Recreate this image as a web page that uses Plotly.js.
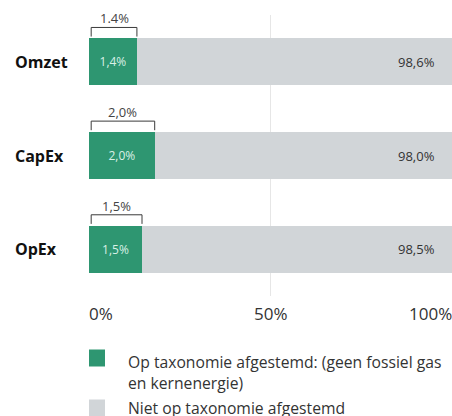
<!DOCTYPE html>
<html>
<head>
<meta charset="utf-8">
<script src="https://cdn.plot.ly/plotly-3.0.1.min.js"></script>
<style>html,body{margin:0;padding:0;background:#fff;}#chart{width:452px;height:416px;}</style>
</head>
<body>
<div id="chart"></div>
<script>
// Categories (top to bottom)
const categories = ['Omzet', 'CapEx', 'OpEx'];
// Reported values (%)
const alignedValues = [1.4, 2.0, 1.5];
const notAlignedValues = [98.6, 98.0, 98.5];
// Bar lengths as drawn in the reference (small share is drawn enlarged)
const alignedDrawn = [13.2, 18.1, 14.6];
const notAlignedDrawn = [86.8, 81.9, 85.4];
// Labels as printed
const alignedLabels = ['1,4%', '2,0%', '1,5%'];
const bracketLabels = ['1.4%', '2,0%', '1,5%'];
const notAlignedLabels = ['98,6%', '98,0%', '98,5%'];
const xTickVals = [0, 50, 100];
const xTickText = ['0%', '50%', '100%'];
const seriesNames = ['Op taxonomie afgestemd: (geen fossiel gas<br>en kernenergie)', 'Niet op taxonomie afgestemd'];

const GREEN = '#2e9671';
const GREY = '#d1d5d8';
const FONT = 'Open Sans, sans-serif';

const traces = [
  {
    type: 'bar', orientation: 'h', name: seriesNames[0],
    y: categories, x: alignedDrawn,
    customdata: alignedValues,
    marker: {color: GREEN, line: {width: 0}},
    text: alignedLabels, textposition: 'inside', insidetextanchor: 'middle',
    textangle: 0, constraintext: 'none',
    insidetextfont: {family: FONT, size: 12, color: '#d9f0e6'},
    hoverinfo: 'skip', showlegend: false
  },
  {
    type: 'bar', orientation: 'h', name: seriesNames[1],
    y: categories, x: notAlignedDrawn,
    customdata: notAlignedValues,
    marker: {color: GREY, line: {width: 0}},
    hoverinfo: 'skip', showlegend: false
  }
];

const shapes = [];
const annotations = [];
const LINE = {color: '#3a3a3a', width: 1};
categories.forEach((c, i) => {
  const top = i - 0.367, bot = i - 0.27;
  const x0 = 0.6, x1 = alignedDrawn[i];
  shapes.push({type: 'line', xref: 'x', yref: 'y', x0: x0, x1: x0, y0: top, y1: bot, line: LINE});
  shapes.push({type: 'line', xref: 'x', yref: 'y', x0: x1, x1: x1, y0: top, y1: bot, line: LINE});
  shapes.push({type: 'line', xref: 'x', yref: 'y', x0: x0, x1: x1, y0: top, y1: top, line: LINE});
  annotations.push({xref: 'x', yref: 'y', x: (x0 + x1) / 2, y: i - 0.463, text: bracketLabels[i],
    showarrow: false, xanchor: 'center', yanchor: 'middle', font: {family: FONT, size: 13, color: '#444'}});
  annotations.push({xref: 'x', yref: 'y', x: 100, y: c, text: notAlignedLabels[i], xshift: -15,
    showarrow: false, xanchor: 'right', yanchor: 'middle', font: {family: FONT, size: 13, color: '#333'}});
  // category label, left-aligned
  annotations.push({xref: 'paper', yref: 'y', x: 0, y: c, xshift: -76, text: '<b>' + c + '</b>',
    showarrow: false, xanchor: 'left', yanchor: 'middle', font: {family: FONT, size: 16, color: '#111'}});
});
// x tick labels (edge labels kept inside the chart)
const anchors = ['left', 'center', 'right'];
const tickShift = [-2, 0, 2];
xTickVals.forEach((v, i) => {
  annotations.push({xref: 'x', yref: 'paper', x: v, y: 0, yshift: -17, xshift: tickShift[i], text: xTickText[i],
    showarrow: false, xanchor: anchors[i], yanchor: 'middle', font: {family: FONT, size: 17, color: '#333'}});
});
// Legend (pixel offsets below the plot area)
const legendColors = [GREEN, GREY];
const legendSquareTop = [-53.5, -103.5];
legendColors.forEach((col, k) => {
  shapes.push({type: 'rect', xref: 'paper', yref: 'paper', xsizemode: 'pixel', ysizemode: 'pixel',
    xanchor: 0, yanchor: 0, x0: 0, x1: 16, y0: legendSquareTop[k], y1: legendSquareTop[k] - 17,
    fillcolor: col, line: {width: 0}});
});
const legendLines = seriesNames[0].split('<br>').concat([seriesNames[1]]);
const legendLineShift = [-65.5, -86.5, -111.5];
legendLines.forEach((t, k) => {
  annotations.push({xref: 'paper', yref: 'paper', x: 0, y: 0, xshift: 37, yshift: legendLineShift[k], text: t,
    showarrow: false, xanchor: 'left', yanchor: 'middle', font: {family: FONT, size: 15.7, color: '#333'}});
});

const layout = {
  width: 452, height: 416,
  margin: {l: 89, r: 0, t: 14.5, b: 119.5, pad: 0, autoexpand: false},
  paper_bgcolor: '#fff', plot_bgcolor: '#fff',
  barmode: 'stack', bargap: 0.5,
  showlegend: false,
  font: {family: FONT},
  xaxis: {range: [0, 100], tickvals: xTickVals, showticklabels: false, showgrid: true, automargin: false,
    gridcolor: '#e6e6e6', gridwidth: 1.5, zeroline: false, showline: false, fixedrange: true},
  yaxis: {type: 'category', categoryorder: 'array', categoryarray: categories, range: [2.5, -0.5], autorange: false,
    showgrid: false, zeroline: false, showline: false, ticks: '', showticklabels: false, automargin: false,
    fixedrange: true},
  shapes: shapes,
  annotations: annotations
};

Plotly.newPlot('chart', traces, layout, {displayModeBar: false, staticPlot: true});
</script>
</body>
</html>
